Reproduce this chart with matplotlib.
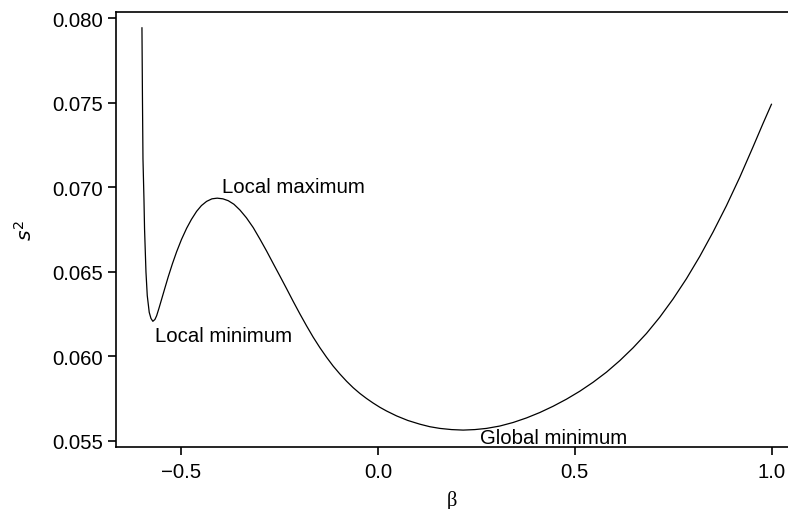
import matplotlib
matplotlib.use("Agg")
import matplotlib.pyplot as plt

# valores (beta, s^2)
beta = [-0.5990, -0.5977, -0.5964, -0.5939, -0.5924, -0.5888, -0.5855, -0.5805,
        -0.5761, -0.5713, -0.5660, -0.5617, -0.5558, -0.5490, -0.5406, -0.5322,
        -0.5216, -0.5109, -0.4987, -0.4855, -0.4734, -0.4602, -0.4480, -0.4348,
        -0.4213, -0.4079, -0.3934, -0.3799, -0.3655, -0.3503, -0.3338, -0.3165,
        -0.2995, -0.2825, -0.2657, -0.2487, -0.2317, -0.2150, -0.1980, -0.1810,
        -0.1642, -0.1472, -0.1302, -0.1135, -0.0964, -0.0794, -0.0627, -0.0457,
        -0.0287, -0.0119, 0.0051, 0.0221, 0.0475, 0.0761, 0.1066, 0.1320,
        0.1574, 0.1871, 0.2165, 0.2462, 0.2759, 0.3096, 0.3434, 0.3774,
        0.4112, 0.4449, 0.4789, 0.5127, 0.5464, 0.5805, 0.6142, 0.6480,
        0.6820, 0.7157, 0.7495, 0.7835, 0.8173, 0.8510, 0.8850, 0.9188,
        0.9525, 0.9772, 1.0000]
s2 = [0.07948, 0.07523, 0.07168, 0.06931, 0.06754, 0.06499, 0.06359, 0.06260,
      0.06224, 0.06207, 0.06218, 0.06240, 0.06284, 0.06338, 0.06405, 0.06471,
      0.06548, 0.06619, 0.06691, 0.06758, 0.06810, 0.06858, 0.06892, 0.06917,
      0.06932, 0.06936, 0.06932, 0.06921, 0.06900, 0.06866, 0.06820, 0.06762,
      0.06694, 0.06623, 0.06549, 0.06475, 0.06400, 0.06325, 0.06251, 0.06180,
      0.06113, 0.06051, 0.05994, 0.05942, 0.05895, 0.05852, 0.05814, 0.05780,
      0.05750, 0.05723, 0.05698, 0.05676, 0.05647, 0.05620, 0.05598, 0.05583,
      0.05573, 0.05566, 0.05563, 0.05566, 0.05573, 0.05587, 0.05608, 0.05635,
      0.05667, 0.05704, 0.05746, 0.05793, 0.05846, 0.05906, 0.05974, 0.06050,
      0.06135, 0.06231, 0.06339, 0.06459, 0.06591, 0.06735, 0.06891, 0.07059,
      0.07239, 0.07374, 0.07495]

xticks = [-0.5, 0.0, 0.5, 1.0]
yticks = [0.055, 0.060, 0.065, 0.070, 0.075, 0.080]

# anotacoes: texto, beta, s2
notas = [("Local maximum", -0.3967, 0.06971),
         ("Local minimum", -0.566, 0.06092),
         ("Global minimum", 0.259, 0.05486)]

plt.rcParams['font.family'] = ['Liberation Sans', 'DejaVu Sans']
fs = 14.7

fig = plt.figure(figsize=(7.88, 5.10), dpi=100)
ax = fig.add_axes([0.1478, 0.1216, 0.8522, 0.8529])

ax.plot(beta, s2, color='black', linewidth=0.9,
        solid_joinstyle='round', solid_capstyle='butt')

for texto, x, y in notas:
    ax.text(x, y, texto, fontsize=fs, ha='left', va='baseline')

ax.set_xlim(-0.6637, 1.0414)
ax.set_ylim(0.05463, 0.08038)
ax.set_xticks(xticks)
ax.set_xticklabels(["\u22120.5", "0.0", "0.5", "1.0"])
ax.set_yticks(yticks)
ax.set_yticklabels(["%.3f" % v for v in yticks])

ax.spines['right'].set_visible(False)
for s in ['left', 'bottom', 'top']:
    ax.spines[s].set_linewidth(1.2)
ax.tick_params(direction='out', length=6, width=1.2, labelsize=fs)
ax.tick_params(axis='y', pad=3.5)
ax.tick_params(axis='x', pad=5)

ax.set_xlabel("\u03b2", fontsize=fs, family=['Liberation Serif', 'DejaVu Serif'], labelpad=6)
ax.set_ylabel(r"$s^2$", fontsize=fs, labelpad=12)

fig.savefig("out.png", dpi=100)
